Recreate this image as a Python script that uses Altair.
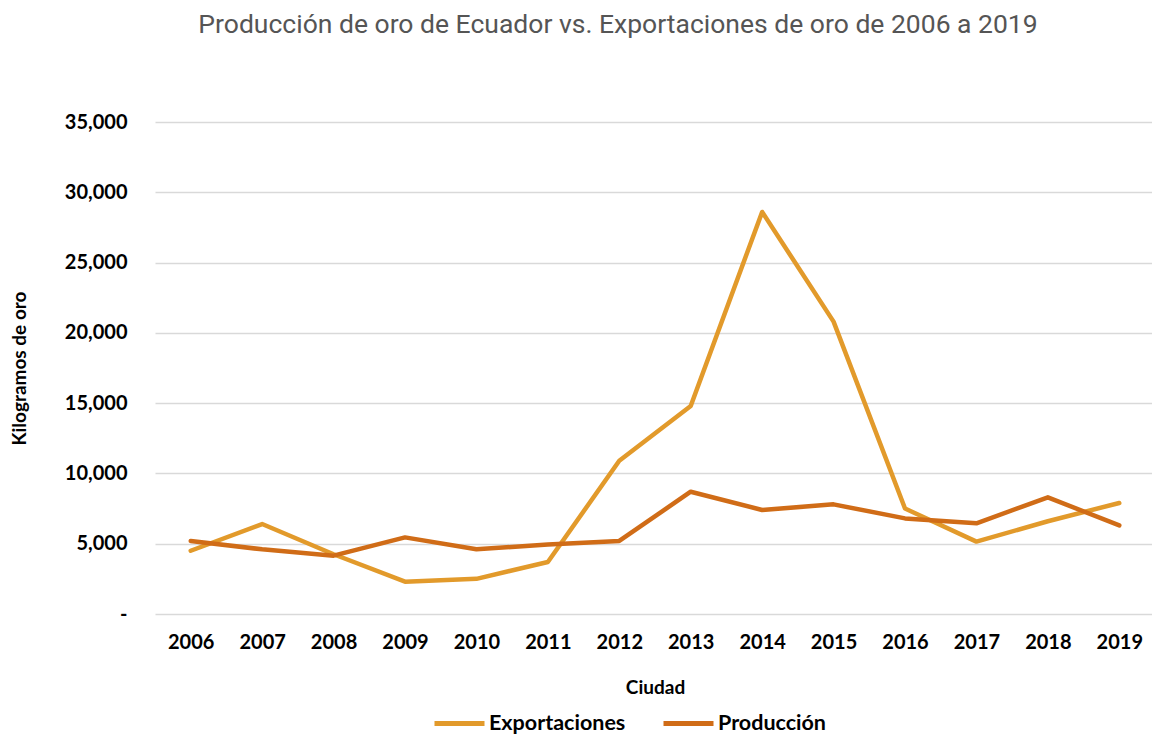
import altair as alt
import pandas as pd

years = ["2006", "2007", "2008", "2009", "2010", "2011", "2012",
         "2013", "2014", "2015", "2016", "2017", "2018", "2019"]
exportaciones = [4500, 6400, 4250, 2300, 2500, 3700, 10900,
                 14800, 28600, 20800, 7500, 5150, 6600, 7900]
produccion = [5200, 4600, 4150, 5450, 4600, 4950, 5200,
              8700, 7400, 7800, 6800, 6450, 8300, 6300]
series = ["Exportaciones", "Producción"]
colors = ["#E29A2B", "#D06C17"]

rows = []
for i, y in enumerate(years):
    rows.append({"Año": y, "Serie": series[0], "Valor": exportaciones[i], "o": 0})
    rows.append({"Año": y, "Serie": series[1], "Valor": produccion[i], "o": 1})
df = pd.DataFrame(rows)

FONT = "Lato"

chart = alt.Chart(df).mark_line(strokeWidth=4.5, strokeCap="round", strokeJoin="round").encode(
    x=alt.X("Año:O", sort=years,
            axis=alt.Axis(title="Ciudad", labelAngle=0, domain=False, ticks=False,
                          labelPadding=18, titlePadding=26,
                          labelFont=FONT, labelFontSize=20, labelFontWeight="bold", labelColor="#000",
                          titleFont=FONT, titleFontSize=19, titleFontWeight="bold", titleColor="#000")),
    y=alt.Y("Valor:Q", scale=alt.Scale(domain=[0, 35000], nice=False),
            axis=alt.Axis(title="Kilogramos de oro", values=[0, 5000, 10000, 15000, 20000, 25000, 30000, 35000],
                          labelExpr="datum.value == 0 ? '-' : format(datum.value, ',')",
                          domain=False, ticks=False, labelPadding=28, titlePadding=35,
                          gridColor="#d9d9d9", gridWidth=1.5,
                          labelFont=FONT, labelFontSize=20, labelFontWeight="bold", labelColor="#000",
                          titleFont=FONT, titleFontSize=19, titleFontWeight="bold", titleColor="#000")),
    color=alt.Color("Serie:N", scale=alt.Scale(domain=series, range=colors),
                    legend=alt.Legend(title=None, orient="none", direction="horizontal",
                                      legendX=277, legendY=574,
                                      symbolType="stroke", symbolSize=2500, symbolStrokeWidth=5,
                                      labelFont=FONT, labelFontSize=21.5, labelFontWeight="bold",
                                      labelColor="#000", columnPadding=27, labelOffset=2)),
    order="o:Q",
).properties(
    width=1000, height=492,
    padding={"left": 147, "top": 114, "right": -3, "bottom": 120},
    autosize="none",
    title=alt.TitleParams("Producción de oro de Ecuador vs. Exportaciones de oro de 2006 a 2019",
                          font="Roboto", fontSize=26.5, fontWeight="normal", color="#555555",
                          anchor="middle", dx=-37, offset=74),
).configure_view(stroke=None)

chart.save("out.html", embed_options={"renderer": "svg", "actions": False})
